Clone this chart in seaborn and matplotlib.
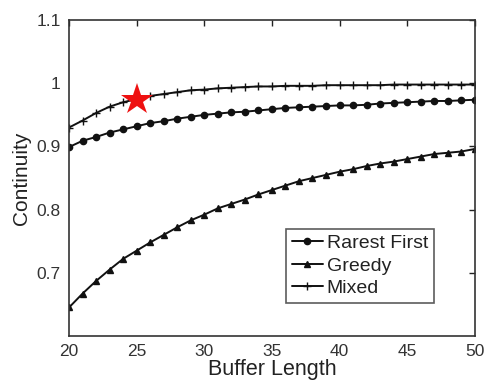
import matplotlib
matplotlib.use("Agg")
import matplotlib.pyplot as plt
import seaborn as sns
import pandas as pd
import numpy as np

buffer_length = list(range(20, 51))
rarest_first = [0.899, 0.909, 0.915, 0.922, 0.927, 0.932, 0.937, 0.940, 0.944, 0.947,
                0.950, 0.952, 0.954, 0.955, 0.957, 0.959, 0.961, 0.962, 0.963, 0.964,
                0.965, 0.965, 0.966, 0.968, 0.969, 0.970, 0.971, 0.972, 0.972, 0.973, 0.974]
greedy = [0.645, 0.667, 0.687, 0.705, 0.722, 0.735, 0.748, 0.760, 0.772, 0.783,
          0.792, 0.802, 0.809, 0.816, 0.824, 0.831, 0.838, 0.845, 0.850, 0.855,
          0.860, 0.864, 0.869, 0.873, 0.876, 0.880, 0.884, 0.888, 0.890, 0.892, 0.896]
mixed = [0.930, 0.941, 0.953, 0.963, 0.970, 0.975, 0.980, 0.983, 0.986, 0.989,
         0.990, 0.992, 0.993, 0.994, 0.995, 0.995, 0.996, 0.996, 0.996, 0.997,
         0.997, 0.997, 0.997, 0.997, 0.998, 0.998, 0.998, 0.998, 0.998, 0.998, 0.998]
star_x = [25]
star_y = [0.973]
x_ticks = [20, 25, 30, 35, 40, 45, 50]
y_ticks = [0.7, 0.8, 0.9, 1.0, 1.1]
y_tick_labels = ["0.7", "0.8", "0.9", "1", "1.1"]

sns.set_theme(style="white")
plt.rcParams['font.family'] = ['Liberation Sans', 'DejaVu Sans']

fig = plt.figure(figsize=(4.86, 3.80), dpi=100)
ax = fig.add_axes([0.142, 0.116, 0.835, 0.831])

series = [("Rarest First", rarest_first, "o", 4.5),
          ("Greedy", greedy, "^", 5),
          ("Mixed", mixed, "+", 6)]
for name, vals, mk, ms in series:
    sns.lineplot(x=buffer_length, y=vals, color="#111111", marker=mk, markersize=ms,
                 markeredgewidth=1.0, markeredgecolor="#111111", linewidth=1.4,
                 label=name, ax=ax)

ax.plot(star_x, star_y, marker="*", color="#ee1111", markersize=24,
        markeredgewidth=0, linestyle="none", zorder=5)

ax.set_xlim(20, 50)
ax.set_ylim(0.6, 1.1)
ax.set_xticks(x_ticks)
ax.set_yticks(y_ticks)
ax.set_yticklabels(y_tick_labels)
ax.tick_params(direction="in", length=4, width=1, top=True, right=True,
               labelsize=12.5, colors="#222222", pad=6)
ax.tick_params(axis="both", which="both", labelcolor="#333333")
for s in ax.spines.values():
    s.set_color("#333333")
    s.set_linewidth(1.2)
ax.set_xlabel("Buffer Length", fontsize=15.5, color="#222222", labelpad=0)
ax.set_ylabel("Continuity", fontsize=15, color="#222222", labelpad=4)

leg = ax.legend(loc="lower right", bbox_to_anchor=(0.899, 0.104), fontsize=14,
                frameon=True, fancybox=False, handlelength=1.6, handletextpad=0.2,
                borderpad=0.3, labelspacing=0.25, borderaxespad=0)
leg.get_frame().set_edgecolor("#333333")
leg.get_frame().set_linewidth(1.2)
for t in leg.get_texts():
    t.set_color("#222222")

fig.savefig("out.png", dpi=100)
